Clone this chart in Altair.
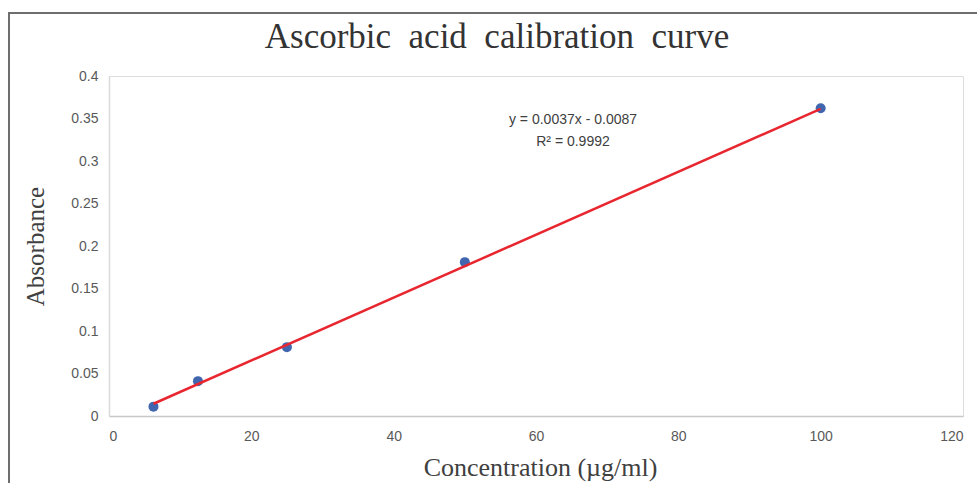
import altair as alt
import pandas as pd

# Calibration standards: concentration (µg/ml) and measured absorbance
concentration = [6.25, 12.5, 25, 50, 100]
absorbance = [0.011, 0.041, 0.081, 0.181, 0.362]

# Linear least-squares fit reported for the standards
slope = 0.0037
intercept = -0.0087
r_squared = 0.9992

points = pd.DataFrame({"conc": concentration, "abs": absorbance})
fit_x = [min(concentration), max(concentration)]
fit = pd.DataFrame({"conc": fit_x, "abs": [slope * v + intercept for v in fit_x]})
equation = [
    f"y = {slope:.4f}x - {abs(intercept):.4f}",
    f"R\u00b2 = {r_squared:.4f}",
]

serif = "Liberation Serif"
sans = "Liberation Sans"

x_scale = alt.Scale(domain=[0, 120], nice=False)
y_scale = alt.Scale(domain=[0, 0.4], nice=False)

x_axis = alt.Axis(
    values=[0, 20, 40, 60, 80, 100, 120],
    grid=False, ticks=False,
    domainColor="#c8c8c8", domainWidth=1.5,
    labelFont=sans, labelFontSize=14, labelColor="#595959", labelPadding=13,
    title="Concentration (\u00b5g/ml)", titleFont=serif, titleFontSize=26,
    titleFontWeight="normal", titleColor="#404040",
    titleX=431, titleY=51, titleBaseline="middle", titleAlign="center",
)
y_axis = alt.Axis(
    values=[0, 0.05, 0.1, 0.15, 0.2, 0.25, 0.3, 0.35, 0.4],
    format=".2~f",
    grid=False, ticks=False,
    domainColor="#d9d9d9", domainWidth=1.5,
    labelFont=sans, labelFontSize=14, labelColor="#595959", labelPadding=11,
    title="Absorbance", titleFont=serif, titleFontSize=25,
    titleFontWeight="normal", titleColor="#404040",
    titleX=-74, titleY=170, titleBaseline="middle", titleAlign="center",
)

base = alt.Chart(points)

# Outer chart border
frame = alt.Chart(pd.DataFrame({"k": [0]})).mark_rect(
    fill=None, stroke="#6e6e6e", strokeWidth=2
).encode(
    x=alt.value(-100), x2=alt.value(900),
    y=alt.value(-63), y2=alt.value(440),
)

scatter = base.mark_circle(size=100, color="#4166b0", opacity=1).encode(
    x=alt.X("conc:Q", scale=x_scale, axis=x_axis),
    y=alt.Y("abs:Q", scale=y_scale, axis=y_axis),
)

trend = alt.Chart(fit).mark_line(color="#e8262f", strokeWidth=2.5).encode(
    x=alt.X("conc:Q", scale=x_scale),
    y=alt.Y("abs:Q", scale=y_scale),
)

label = alt.Chart(pd.DataFrame({"t": [equation]})).mark_text(
    font=sans, fontSize=14, color="#404040", align="center",
    baseline="middle", lineHeight=22,
).encode(
    text="t:N", x=alt.value(464), y=alt.value(44),
)

chart = alt.layer(frame, scatter, trend, label).properties(
    width=854, height=340,
    padding={"left": 109, "top": 76, "right": 14, "bottom": 67},
    autosize=alt.AutoSizeParams(type="none"),
    title=alt.TitleParams(
        "Ascorbic\u00a0 acid\u00a0 calibration\u00a0 curve",
        font=serif, fontSize=35, fontWeight="normal", color="#333333",
        anchor="middle", dx=-39, offset=-43,
    ),
).configure_view(stroke=None).configure(background="white")

chart.save("out.html", embed_options={"renderer": "svg", "actions": False})
